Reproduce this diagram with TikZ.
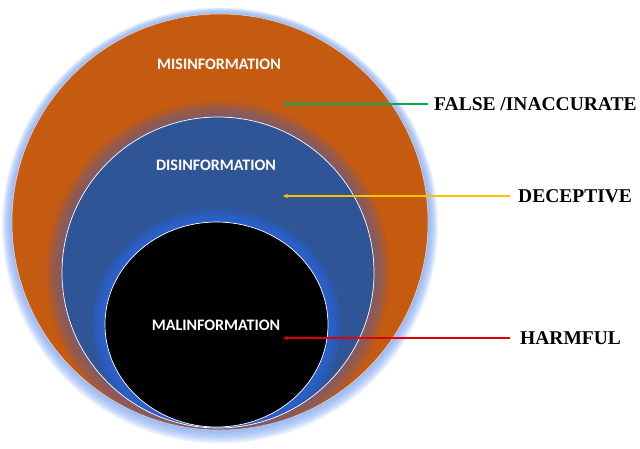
\documentclass[tikz,border=0pt]{standalone}
\usepackage{fontspec}
\usetikzlibrary{arrows.meta}
\setmainfont{Liberation Serif}
\newfontfamily\labelfont{Carlito}
\definecolor{misorange}{HTML}{C55A11}
\definecolor{disblue}{HTML}{2F5597}
\definecolor{glowblue}{HTML}{7FA8F5}
\definecolor{innerglow}{HTML}{2A6AE8}
\definecolor{shadowpurple}{HTML}{6A5A90}
\definecolor{arrgreen}{HTML}{00B050}
\definecolor{arryellow}{HTML}{FFC000}
\definecolor{arrred}{HTML}{E00000}
\begin{document}
\begin{tikzpicture}[x=1pt,y=-1pt,
  intext/.style={font=\labelfont\bfseries\fontsize{16}{16}\selectfont, text=white, inner sep=0pt},
  outtext/.style={font=\bfseries\fontsize{19.5}{20}\selectfont, text=black, anchor=west,
    text height=13pt, text depth=0pt, inner ysep=0pt},
  pointer/.style={line width=1.1pt, -{Stealth[length=5pt,width=4.5pt]}}]
\useasboundingbox (0,0) rectangle (640,448);
\fill[white] (0,0) rectangle (640,448);
% outer glow (slightly stronger towards the bottom)
\foreach \i in {1,...,10}
  \fill[glowblue, opacity=0.13] (220,222+0.35*\i) ellipse [x radius=208+\i, y radius=208+\i];
% misinformation
\fill[misorange] (220,222) ellipse [x radius=208, y radius=208];
\begin{scope}
  \clip (220,222) ellipse [x radius=208, y radius=208];
  \foreach \i in {1,...,16}
    \fill[shadowpurple, opacity=0.07] (218,272.5) ellipse [x radius=156+\i, y radius=155.5+\i];
\end{scope}
\draw[white, line width=0.5pt, opacity=0.7] (220,222) ellipse [x radius=208, y radius=208];
% disinformation
\fill[disblue] (218,272.5) ellipse [x radius=156, y radius=155.5];
\begin{scope}
  \clip (218,272.5) ellipse [x radius=156, y radius=155.5];
  \foreach \i in {1,...,14}
    \fill[innerglow, opacity=0.09] (216.5,324.5) ellipse [x radius=111.5+\i, y radius=102.5+\i];
\end{scope}
\draw[white, line width=0.7pt] (218,272.5) ellipse [x radius=156, y radius=155.5];
% malinformation
\fill[black] (216.5,324.5) ellipse [x radius=111.5, y radius=102.5];
\draw[white, line width=0.7pt] (216.5,324.5) ellipse [x radius=111.5, y radius=102.5];
% inner labels
\node[intext] (mis) at (219,64) {MISINFORMATION};
\node[intext] (dis) at (216,165) {DISINFORMATION};
\node[intext] (mal) at (216,325) {MALINFORMATION};
% outer labels
\node[outtext, inner xsep=6pt] (false) at (428,104) {FALSE /INACCURATE};
\node[outtext, inner xsep=8pt] (decep) at (510,196) {DECEPTIVE};
\node[outtext, inner xsep=10pt] (harm) at (510,338) {HARMFUL};
\coordinate (gtip) at (283,104);
\coordinate (ytip) at (283,196);
\coordinate (rtip) at (283,338);
\draw[pointer, arrgreen] (false.west) -- (gtip);
\draw[pointer, arryellow] (decep.west) -- (ytip);
\draw[pointer, arrred] (harm.west) -- (rtip);
\end{tikzpicture}
\end{document}
